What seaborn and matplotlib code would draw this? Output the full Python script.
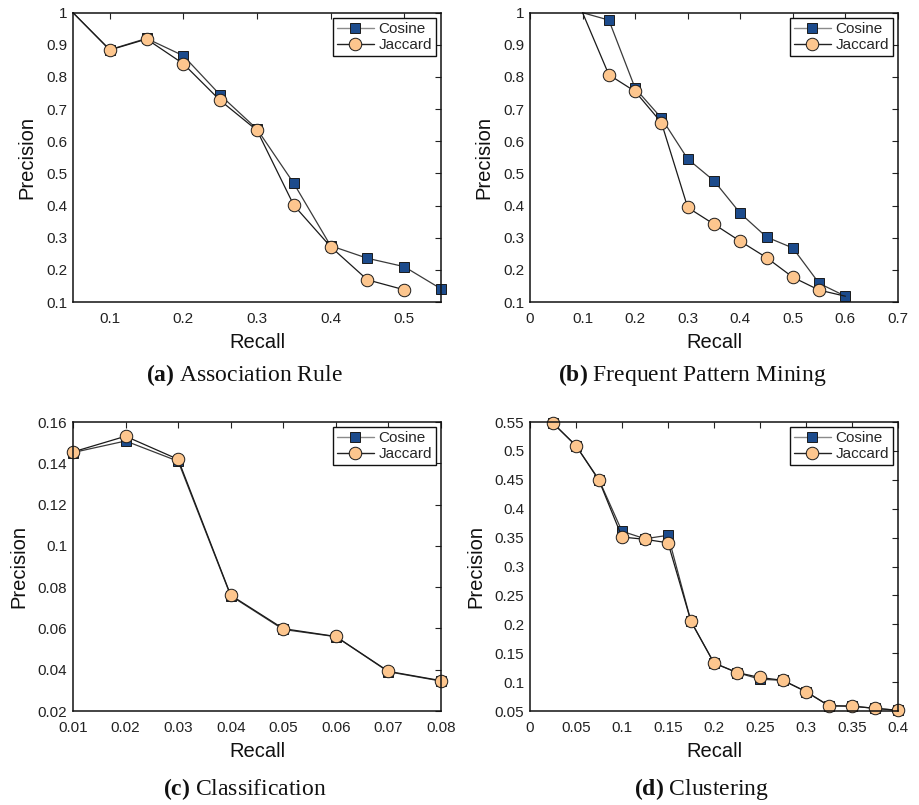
import matplotlib
matplotlib.use("Agg")
import matplotlib.pyplot as plt
from matplotlib.lines import Line2D
import seaborn as sns

# ---- (a) Association Rule ----
assoc_recall_cos = [0.05, 0.10, 0.15, 0.20, 0.25, 0.30, 0.35, 0.40, 0.45, 0.50, 0.55]
assoc_prec_cos = [1.00, 0.885, 0.920, 0.866, 0.744, 0.638, 0.469, 0.275, 0.236, 0.210, 0.141]
assoc_recall_jac = [0.05, 0.10, 0.15, 0.20, 0.25, 0.30, 0.35, 0.40, 0.45, 0.50]
assoc_prec_jac = [1.00, 0.884, 0.918, 0.841, 0.727, 0.634, 0.401, 0.272, 0.169, 0.138]

# ---- (b) Frequent Pattern Mining ----
fpm_recall_cos = [0.10, 0.15, 0.20, 0.25, 0.30, 0.35, 0.40, 0.45, 0.50, 0.55, 0.60]
fpm_prec_cos = [1.00, 0.977, 0.765, 0.672, 0.545, 0.477, 0.376, 0.302, 0.268, 0.158, 0.118]
fpm_recall_jac = [0.10, 0.15, 0.20, 0.25, 0.30, 0.35, 0.40, 0.45, 0.50, 0.55, 0.60]
fpm_prec_jac = [1.00, 0.807, 0.755, 0.658, 0.394, 0.342, 0.289, 0.238, 0.177, 0.137, 0.118]

# ---- (c) Classification ----
cls_recall = [0.01, 0.02, 0.03, 0.04, 0.05, 0.06, 0.07, 0.08]
cls_prec_cos = [0.1452, 0.1508, 0.1410, 0.0758, 0.0595, 0.0560, 0.0390, 0.0345]
cls_prec_jac = [0.1455, 0.1531, 0.1419, 0.0761, 0.0599, 0.0561, 0.0392, 0.0347]

# ---- (d) Clustering ----
clu_recall = [0.025, 0.05, 0.075, 0.10, 0.125, 0.15, 0.175, 0.20,
              0.225, 0.25, 0.275, 0.30, 0.325, 0.35, 0.375, 0.40]
clu_prec_cos = [0.548, 0.509, 0.450, 0.361, 0.348, 0.354, 0.205, 0.133,
                0.1165, 0.105, 0.103, 0.0835, 0.059, 0.0584, 0.0546, 0.0512]
clu_prec_jac = [0.548, 0.509, 0.449, 0.351, 0.347, 0.341, 0.205, 0.133,
                0.1165, 0.108, 0.103, 0.0835, 0.059, 0.0584, 0.0546, 0.0512]

series_names = ["Cosine", "Jaccard"]
captions = [("(a)", "Association Rule"), ("(b)", "Frequent Pattern Mining"),
            ("(c)", "Classification"), ("(d)", "Clustering")]

sns.set_style("white")
plt.rcParams["font.family"] = ["Liberation Sans", "DejaVu Sans"]
plt.rcParams["mathtext.fontset"] = "custom"
plt.rcParams["mathtext.rm"] = "Liberation Serif"
plt.rcParams["mathtext.bf"] = "Liberation Serif:bold"

COS_FACE, JAC_FACE = "#1c4b8c", "#fdc68e"
COS_LINE, JAC_LINE = "#3a3a3a", "#1a1a1a"
EDGE = "#1a1a1a"

style = {
    "Cosine": dict(marker="s", markersize=7.0, markerfacecolor=COS_FACE, markeredgecolor=EDGE,
                   markeredgewidth=0.7, color=COS_LINE),
    "Jaccard": dict(marker="o", markersize=9.0, markerfacecolor=JAC_FACE, markeredgecolor=EDGE,
                    markeredgewidth=0.7, color=JAC_LINE),
}

W, H = 919, 805
fig = plt.figure(figsize=(W / 100, H / 100), dpi=100)


def px_axes(left, top, right, bottom):
    return fig.add_axes([left / W, 1 - bottom / H, (right - left) / W, (bottom - top) / H])


panels = [
    dict(rect=(73, 12.7, 441, 302),
         data=[(assoc_recall_cos, assoc_prec_cos, slice(1, None)),
               (assoc_recall_jac, assoc_prec_jac, slice(1, None))],
         xlim=(0.05, 0.55), ylim=(0.1, 1.0),
         xticks=[0.1, 0.2, 0.3, 0.4, 0.5],
         yticks=[0.1, 0.2, 0.3, 0.4, 0.5, 0.6, 0.7, 0.8, 0.9, 1.0],
         cap_x=244, cap_y=381),
    dict(rect=(530, 12.7, 898, 302),
         data=[(fpm_recall_cos, fpm_prec_cos, slice(1, None)),
               (fpm_recall_jac, fpm_prec_jac, slice(1, -1))],
         xlim=(0.0, 0.7), ylim=(0.1, 1.0),
         xticks=[0, 0.1, 0.2, 0.3, 0.4, 0.5, 0.6, 0.7],
         yticks=[0.1, 0.2, 0.3, 0.4, 0.5, 0.6, 0.7, 0.8, 0.9, 1.0],
         cap_x=692, cap_y=381),
    dict(rect=(73, 422, 441, 711),
         data=[(cls_recall, cls_prec_cos, None),
               (cls_recall, cls_prec_jac, None)],
         xlim=(0.01, 0.08), ylim=(0.02, 0.16),
         xticks=cls_recall,
         yticks=[0.02, 0.04, 0.06, 0.08, 0.10, 0.12, 0.14, 0.16],
         cap_x=245, cap_y=795),
    dict(rect=(530, 422, 898, 711),
         data=[(clu_recall, clu_prec_cos, None),
               (clu_recall, clu_prec_jac, None)],
         xlim=(0.0, 0.4), ylim=(0.05, 0.55),
         xticks=[0, 0.05, 0.1, 0.15, 0.2, 0.25, 0.3, 0.35, 0.4],
         yticks=[0.05, 0.1, 0.15, 0.2, 0.25, 0.3, 0.35, 0.4, 0.45, 0.5, 0.55],
         cap_x=701, cap_y=795),
]

for panel, (tag, title) in zip(panels, captions):
    ax = px_axes(*panel["rect"])
    for name, (xs, ys, mark_idx) in zip(series_names, panel["data"]):
        sns.lineplot(x=xs, y=ys, ax=ax, sort=False, estimator=None,
                     linewidth=0.9, markevery=mark_idx, clip_on=False,
                     **style[name])
    ax.set_xlim(*panel["xlim"])
    ax.set_ylim(*panel["ylim"])
    ax.set_xticks(panel["xticks"])
    ax.set_yticks(panel["yticks"])
    ax.set_xticklabels(["%g" % v for v in panel["xticks"]])
    ax.set_yticklabels(["%g" % v for v in panel["yticks"]])
    ax.tick_params(direction="in", top=True, right=True, length=4, width=0.8,
                   labelsize=11, labelcolor="#222222", color="#222222")
    ax.tick_params(axis="x", pad=7)
    ax.tick_params(axis="y", pad=4)
    for sp in ax.spines.values():
        sp.set_visible(True)
        sp.set_linewidth(1.1)
        sp.set_color("#111111")
    ax.set_xlabel("Recall", fontsize=14.5, color="#111111", labelpad=5)
    ax.set_ylabel("Precision", fontsize=14.5, color="#111111", labelpad=7)

    handles = [Line2D([], [], linewidth=1.0,
                      **{**style[n], "color": ("#8a8a8a" if n == "Cosine" else "#222222")})
               for n in series_names]
    leg = ax.legend(handles, series_names, loc="upper right", fontsize=11,
                    frameon=True, fancybox=False, edgecolor="#111111", framealpha=1,
                    borderaxespad=0.35, handlelength=2.4, handletextpad=0.3,
                    borderpad=0.25, labelspacing=0.15)
    leg.get_frame().set_linewidth(1.0)

    fig.text(panel["cap_x"] / W, 1 - panel["cap_y"] / H,
             r"$\mathbf{%s}$ %s" % (tag, title),
             family="Liberation Serif", fontsize=17, ha="center", va="baseline",
             color="#111111")

fig.savefig("out.png", dpi=100)
